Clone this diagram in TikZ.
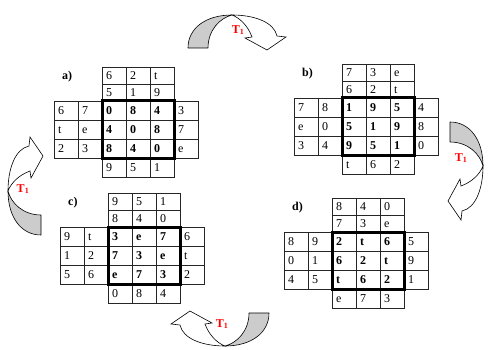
\documentclass[tikz,border=0pt]{standalone}
\usepackage{fontspec}
\setmainfont{Liberation Serif}
\tikzset{
 grd/.style={line width=0.6pt, draw=black!85},
 thickframe/.style={line width=3pt, draw=black},
 cellt/.style={anchor=base west, inner sep=0pt, font=\fontsize{12}{14}\selectfont},
 cellb/.style={anchor=base west, inner sep=0pt, font=\fontsize{12}{14}\selectfont\bfseries},
 lab/.style={anchor=base west, inner sep=0pt, font=\fontsize{12}{14}\selectfont\bfseries},
 tlab/.style={inner sep=0pt, text=red, font=\fontsize{12}{14}\selectfont\bfseries},
 arrgray/.style={fill=black!20, draw=black, line width=0.6pt, line join=round},
 arrwhite/.style={fill=white, draw=black, line width=0.6pt, line join=miter},
}
\newcommand\mygrid[9]{%
\begin{scope}[shift={(#1,#2)}]
\node[lab] (#3lab) at (-40,-21.5) {#3)};
\draw[grd] (0,-34) rectangle (72,0) (0,-17)--(72,-17) (24,-34)--(24,0) (48,-34)--(48,0);
\draw[grd] (-48,0) rectangle (0,57) (-24,0)--(-24,57) (-48,19)--(0,19) (-48,38)--(0,38);
\draw[grd] (72,0) rectangle (96,57) (72,19)--(96,19) (72,38)--(96,38);
\draw[grd] (0,57) rectangle (72,76) (24,57)--(24,76) (48,57)--(48,76);
\draw[grd] (24,0)--(24,57) (48,0)--(48,57) (0,19)--(72,19) (0,38)--(72,38);
\draw[thickframe] (0,0) rectangle (72,57);
\foreach \t [count=\i from 0] in {#4} \node[cellt] (#3ta\i) at (24*\i+4,-21.5) {\t};
\foreach \t [count=\i from 0] in {#5} \node[cellt] (#3tb\i) at (24*\i+4,-4.5) {\t};
\foreach \t [count=\i from 0] in {#6} {\pgfmathtruncatemacro\r{\i/3}\pgfmathtruncatemacro\c{\i-3*\r}
  \node[cellb] (#3m\i) at (24*\c+4,13.5+19*\r) {\t};}
\foreach \t [count=\i from 0] in {#7} \node[cellt] (#3b\i) at (24*\i+4,70.5) {\t};
\foreach \t [count=\i from 0] in {#8} {\pgfmathtruncatemacro\r{\i/2}\pgfmathtruncatemacro\c{\i-2*\r}
  \node[cellt] (#3l\i) at (-48+24*\c+4,13.5+19*\r) {\t};}
\foreach \t [count=\i from 0] in {#9} \node[cellt] (#3r\i) at (76,13.5+19*\i) {\t};
\end{scope}}
\newcommand\curvarrow{%
 \filldraw[arrgray] (-48,16) .. controls (-48,-4) and (-30,-17) .. (-4,-17) .. controls (-16,-14) and (-28,-2) .. (-28,16) -- cycle;
 \filldraw[arrwhite] (-4,-17) .. controls (18,-17) and (38,-10) .. (41,4) -- (50,5) -- (31,18) -- (9,6) -- (16,5) .. controls (12,-6) and (4,-14) .. (-4,-17) -- cycle;
}
\begin{document}
\begin{tikzpicture}[x=1pt,y=-1pt]
\useasboundingbox (0,0) rectangle (500,350);
\mygrid{102}{101}{a}{6,2,t}{5,1,9}{0,8,4,4,0,8,8,4,0}{9,5,1}{6,7,t,e,2,3}{3,7,e}
\mygrid{342}{98}{b}{7,3,e}{6,2,t}{1,9,5,5,1,9,9,5,1}{t,6,2}{7,8,e,0,3,4}{4,8,0}
\mygrid{108}{227}{c}{9,5,1}{8,4,0}{3,e,7,7,3,e,e,7,3}{0,8,4}{9,t,1,2,5,6}{6,t,2}
\mygrid{332}{232}{d}{8,4,0}{7,3,e}{2,t,6,6,2,t,t,6,2}{e,7,3}{8,9,0,1,4,5}{5,9,1}
\begin{scope}[shift={(236,32)}]\curvarrow\end{scope}
\begin{scope}[shift={(25,187)},rotate=90]\curvarrow\end{scope}
\begin{scope}[shift={(466,170)},rotate=-90]\curvarrow\end{scope}
\begin{scope}[shift={(221,329)},rotate=180]\curvarrow\end{scope}
\node[tlab] (T1top) at (238,30) {T\textsubscript{1}};
\node[tlab] (T1left) at (23,189) {T\textsubscript{1}};
\node[tlab] (T1right) at (461,158) {T\textsubscript{1}};
\node[tlab] (T1bot) at (222,324) {T\textsubscript{1}};
\end{tikzpicture}
\end{document}
